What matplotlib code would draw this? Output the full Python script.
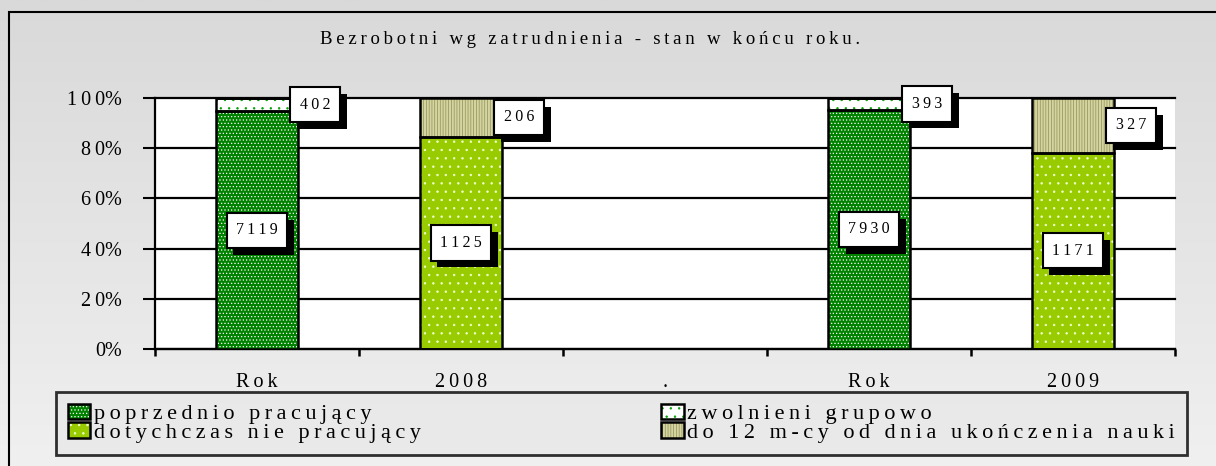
import numpy as np
import matplotlib.pyplot as plt
import matplotlib.patches as mpatches
import matplotlib.patheffects as pe
from matplotlib.colors import LinearSegmentedColormap
from matplotlib.legend_handler import HandlerTuple

# dane
categories = ["Rok", "2008", ".", "Rok", "2009"]
poprzednio = [7119, 0, 0, 7930, 0]
zwolnieni = [402, 0, 0, 393, 0]
dotychczas = [0, 1125, 0, 0, 1171]
do_12 = [0, 206, 0, 0, 327]
names = ["poprzednio pracujący", "zwolnieni grupowo",
         "dotychczas nie pracujący", "do 12 m-cy od dnia ukończenia nauki"]
title = "Bezrobotni wg zatrudnienia - stan w końcu roku."
yticks = [0, 20, 40, 60, 80, 100]

plt.rcParams["font.family"] = ["Liberation Serif", "DejaVu Serif"]
plt.rcParams["hatch.linewidth"] = 0.5


def spaced(s):
    # rozstrzelony tekst jak w oryginale (cienka spacja między literami)
    return "\u2009".join(s)


series = [poprzednio, zwolnieni, dotychczas, do_12]
styles = [
    dict(color="#008200", hatch=".....", hc="white"),
    dict(color="white", hatch="..", hc="#00a000"),
    dict(color="#99cc00", hatch="..", hc="#f0ffd0"),
    dict(color="#d4d4a0", hatch="||||||", hc="#8e8e58"),
]
# etykiety: wewnątrz słupka (True) czy obok (False)
inside = [True, False, True, False]

data = np.array(series, dtype=float)
totals = data.sum(axis=0)
totals[totals == 0] = 1
pct = data / totals * 100

fig = plt.figure(figsize=(12.16, 4.66), dpi=100)

# tło z gradientem
bg = fig.add_axes([0, 0, 1, 1], zorder=-10)
grad = np.linspace(0, 1, 256).reshape(-1, 1)
bg.imshow(grad, aspect="auto",
          cmap=LinearSegmentedColormap.from_list("g", ["#d9d9d9", "#f0f0f0"]),
          extent=[0, 1, 0, 1])
bg.set_axis_off()
fig.add_artist(mpatches.Rectangle((9 / 1216, -0.1), 1.2, 1.1 - 12 / 466,
                                  transform=fig.transFigure, fill=False,
                                  edgecolor="black", lw=1.5))

ax = fig.add_axes([155 / 1216, 117 / 466, 1020 / 1216, 251 / 466])
ax.set_facecolor("white")

x = np.arange(len(categories))
width = 0.4
bottom = np.zeros(len(categories))
handles = []
for i, vals in enumerate(pct):
    st = styles[i]
    ax.bar(x, vals, width, bottom=bottom, color=st["color"], hatch=st["hatch"],
           edgecolor=st["hc"], linewidth=0, zorder=3)
    ax.bar(x, vals, width, bottom=bottom, fill=False, edgecolor="black",
           linewidth=1.8, zorder=4)
    handles.append((mpatches.Patch(facecolor=st["color"], hatch=st["hatch"],
                                   edgecolor=st["hc"], linewidth=0),
                    mpatches.Patch(fill=False, edgecolor="black", linewidth=1.8)))
    for j in range(len(categories)):
        if data[i][j] == 0:
            continue
        yc = bottom[j] + vals[j] / 2
        if inside[i]:
            xt, ha = x[j], "center"
        else:
            xt, ha = x[j] + width / 2 + 0.01, "left"
        t = ax.text(xt, yc, spaced(str(int(data[i][j]))), ha=ha, va="center",
                    fontsize=11.5, zorder=6,
                    bbox=dict(boxstyle="square,pad=0.6", facecolor="white",
                              edgecolor="black", linewidth=1.5))
        t.get_bbox_patch().set_path_effects([
            pe.SimplePatchShadow(offset=(5, -5), shadow_rgbFace="black", alpha=1),
            pe.Normal()])
    bottom += vals

ax.set_xlim(-0.5, len(categories) - 0.5)
ax.set_ylim(0, 100)
ax.set_yticks(yticks)
ax.set_yticklabels([spaced(str(v)) + "%" for v in yticks], fontsize=14.5)
ax.set_xticks(x)
ax.set_xticklabels([spaced(c) for c in categories], fontsize=14.5)
ax.set_xticks(np.arange(-0.5, len(categories)), minor=True)
ax.tick_params(axis="x", which="major", length=0, pad=17)
ax.tick_params(axis="x", which="minor", length=5, width=1.8, direction="out")
ax.tick_params(axis="y", length=9, width=1.5, direction="out", pad=15)

ax.set_axisbelow(True)
ax.yaxis.grid(True, color="black", linewidth=1.6)
for gl in ax.get_ygridlines():
    gl.set_clip_on(False)
ax.spines["top"].set_visible(False)
ax.spines["right"].set_visible(False)
ax.spines["left"].set_linewidth(1.6)
ax.spines["bottom"].set_linewidth(1.6)

fig.text(0.485, 1 - 40 / 466, spaced(title), ha="center", va="center", fontsize=13.5)

# legenda: kolumna 1 - pracujący, kolumna 2 - pozostali
order = [0, 2, 1, 3]
leg = fig.legend([handles[k] for k in order], [spaced(names[k]) for k in order],
                 handler_map={tuple: HandlerTuple(ndivide=1)},
                 loc="lower left", mode="expand", ncol=2,
                 bbox_to_anchor=(56 / 1216, 11 / 466, 1131 / 1216, 60 / 466),
                 fontsize=16, frameon=True, fancybox=False,
                 handlelength=1.0, handleheight=0.7, handletextpad=0.15,
                 labelspacing=-0.1, borderpad=0.55, borderaxespad=0,
                 columnspacing=1.0)
leg.get_frame().set_facecolor("#e8e8e8")
leg.get_frame().set_edgecolor("black")
leg.get_frame().set_linewidth(2)

fig.savefig("out.png", dpi=100)
